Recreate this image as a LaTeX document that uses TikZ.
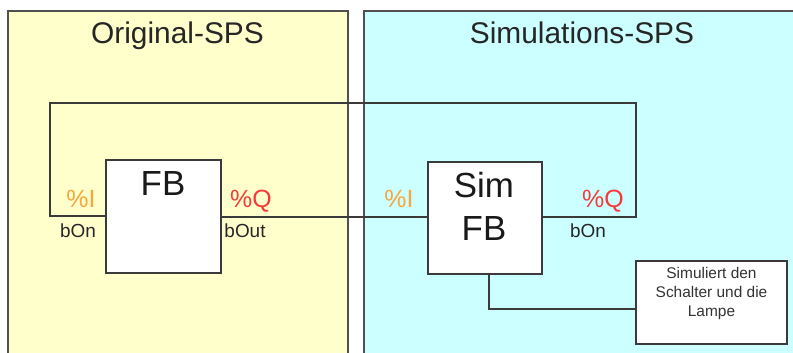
\documentclass[tikz,border=0pt]{standalone}
\usepackage{fontspec}
\setmainfont{Liberation Sans}
\definecolor{panelY}{HTML}{FFFFCC}
\definecolor{panelC}{HTML}{CCFFFF}
\definecolor{edge}{HTML}{505050}
\definecolor{wire}{HTML}{3A3A3A}
\definecolor{inorange}{HTML}{F9A43C}
\definecolor{outred}{HTML}{F53A3A}
\tikzset{
  panel/.style={draw=edge, line width=2bp},
  fbbox/.style={draw=wire, fill=white, line width=1.5bp, inner sep=0pt},
  wireline/.style={draw=wire, line width=1.5bp},
  title/.style={anchor=base, inner sep=0pt, font=\fontsize{30}{36}\selectfont, text=black!85},
  fbtext/.style={anchor=base, inner sep=0pt, font=\fontsize{35}{43}\selectfont, text=black!90},
  portin/.style={anchor=base, inner sep=0pt, font=\fontsize{25}{30}\selectfont, text=inorange},
  portout/.style={anchor=base, inner sep=0pt, font=\fontsize{25}{30}\selectfont, text=outred},
  varname/.style={anchor=base, inner sep=0pt, font=\fontsize{19}{23}\selectfont, text=black!85},
  note/.style={draw=wire, fill=white, line width=1.5bp, minimum width=151bp, minimum height=83bp, inner sep=0pt},
  notetext/.style={anchor=base, inner sep=0pt, font=\fontsize{15.5}{19}\selectfont, text=black!80}
}
\begin{document}
\begin{tikzpicture}[x=1bp, y=-1bp]
\useasboundingbox (0,0) rectangle (793,352);
% panels
\fill[panelY] (8,11) rectangle (348,360);
\draw[panel] (8,360) -- (8,11) -- (348,11) -- (348,360);
\fill[panelC] (364,11) rectangle (800,360);
\draw[panel] (364,360) -- (364,11) -- (800,11);
\node[title] (t1) at (177.5,43) {Original-SPS};
\node[title] (t2) at (582,43) {Simulations-SPS};
% boxes
\node[fbbox, minimum width=115bp, minimum height=113bp] (fb) at (163.5,216.5) {};
\node[fbbox, minimum width=114bp, minimum height=112bp] (sim) at (485,218) {};
\node[note] (nt) at (711.5,302.5) {};
\node[fbtext] (fbl) at (163,195) {FB};
\node[fbtext] (siml) at (484,197) {Sim};
\node[fbtext] (simfb) at (484,240) {FB};
% corner coordinates
\coordinate (c1) at (50,216);
\coordinate (c2) at (50,103);
\coordinate (c3) at (636,103);
\coordinate (c4) at (636,217);
\coordinate (c5) at (489,309);
% wires
\draw[wireline] (fb.west |- c1) -- (c1) -- (c2) -- (c3) -- (c4) -- (sim.east |- c4);
\draw[wireline] (fb.east |- 0,217) -- (sim.west |- 0,217);
\draw[wireline] (sim.south -| c5) -- (c5) -- (nt.west |- c5);
% labels
\node[portin] (i1) at (81,207) {\%I};
\node[varname] (v1) at (78,237) {bOn};
\node[portout] (q1) at (251,207) {\%Q};
\node[varname] (v2) at (245,237) {bOut};
\node[portin] (i2) at (399,207) {\%I};
\node[portout] (q2) at (603,207) {\%Q};
\node[varname] (v3) at (588,237) {bOn};
\node[notetext] (n1) at (711.5,278) {Simuliert den};
\node[notetext] (n2) at (711.5,297) {Schalter und die};
\node[notetext] (n3) at (711.5,316) {Lampe};
\end{tikzpicture}
\end{document}
